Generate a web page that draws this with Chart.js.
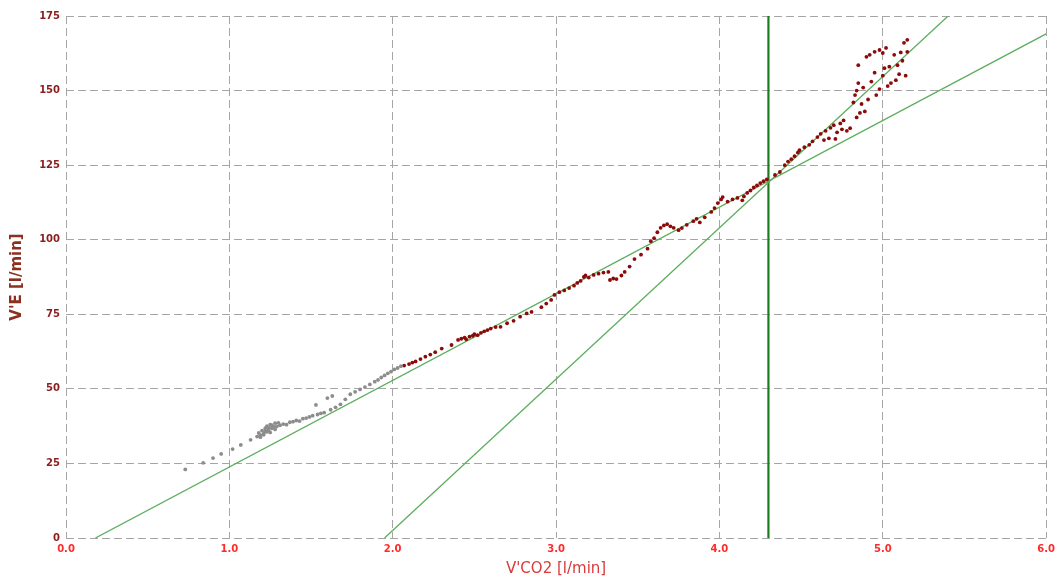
<!DOCTYPE html>
<html>
<head>
<meta charset="utf-8">
<script src="https://cdn.jsdelivr.net/npm/chart.js@4/dist/chart.umd.min.js"></script>
<style>
  html, body { margin: 0; padding: 0; background: #fff; }
  #wrap { width: 1060px; height: 578px; }
</style>
</head>
<body>
<div id="wrap"><canvas id="grafico" width="1060" height="578"></canvas></div>
<script>
// warm-up phase (grey) and exercise phase (dark red): V'CO2 [l/min], V'E [l/min]
const grayX = [0.73,0.84,0.90,0.95,1.02,1.07,1.13,1.17,1.18,1.19,1.20,1.21,1.22,1.23,1.23,1.24,1.25,1.26,1.27,1.28,
  1.19,1.21,1.22,1.24,1.25,1.26,1.28,1.30,
  1.29,1.31,1.33,1.35,1.37,1.39,1.41,1.43,1.45,1.47,1.49,1.51,1.53,1.54,1.56,1.58,1.60,1.63,1.62,1.65,
  1.68,1.71,1.74,1.77,1.80,1.83,1.86,1.89,1.91,1.93,1.95,1.97,1.99,2.01,2.03,2.05];
const grayY = [23.0,25.2,26.8,28.2,29.8,31.2,32.9,34.0,35.2,34.5,36.0,35.0,36.8,35.6,37.5,36.2,38.0,36.8,37.3,38.5,
  33.8,34.6,35.8,37.0,35.4,37.8,36.4,38.6,
  37.4,37.8,38.2,38.0,38.8,39.0,39.4,39.2,40.0,40.2,40.6,41.0,44.6,41.4,41.8,42.0,46.9,47.6,43.0,43.8,
  44.8,46.5,48.2,49.0,49.8,50.6,51.5,52.4,53.0,53.8,54.5,55.2,55.8,56.5,57.0,57.6];

const redX = [2.07,2.10,2.12,2.14,2.17,2.20,2.23,2.26,2.30,2.36,2.40,2.42,2.44,2.45,2.47,2.49,2.50,2.52,2.54,2.56,
  2.58,2.60,2.63,2.66,2.70,2.74,2.78,2.82,2.85,2.91,2.94,2.97,2.99,3.02,3.05,3.08,3.11,3.13,3.15,3.17,
  3.18,3.20,3.23,3.26,3.29,3.32,3.33,3.35,3.37,3.40,3.42,3.45,3.48,3.52,3.56,3.58,3.60,3.62,3.64,3.66,
  3.68,3.70,3.72,3.75,3.77,3.80,3.84,3.86,3.88,3.91,3.95,3.97,3.99,4.01,4.02,4.05,4.08,4.11,4.14,4.15,
  4.17,4.19,4.21,4.23,4.25,4.27,4.29,4.34,4.37,4.40,4.42,4.44,4.46,4.48,4.49,4.52,4.55,4.57,4.60,4.62,
  4.64,4.65,4.67,4.68,4.70,4.71,4.72,4.74,4.75,4.76,4.78,4.80,4.82,4.83,4.84,4.84,4.85,4.85,4.86,4.87,
  4.88,4.89,4.90,4.91,4.92,4.93,4.95,4.95,4.96,4.98,4.98,5.00,5.00,5.01,5.02,5.03,5.04,5.05,5.07,5.08,
  5.09,5.10,5.11,5.12,5.13,5.14,5.15,5.15];
const redY = [57.8,58.3,58.8,59.2,60.0,60.8,61.5,62.3,63.5,64.7,66.4,66.8,67.2,66.6,67.5,67.8,68.3,68.0,68.8,69.3,
  69.7,70.2,70.7,70.8,72.0,72.8,74.2,75.3,75.8,77.4,78.6,79.8,81.5,82.4,83.0,83.8,84.6,85.5,86.2,87.5,
  88.0,87.3,88.2,88.6,89.0,89.2,86.5,87.0,86.8,88.0,89.2,91.0,93.5,95.0,97.0,99.5,100.5,102.5,104.0,104.8,
  105.2,104.5,104.0,103.2,103.9,105.0,106.2,107.0,105.8,107.5,109.3,110.6,112.3,113.5,114.3,112.8,113.5,114.0,113.2,114.5,
  115.7,116.5,117.5,118.2,119.0,119.6,120.2,121.7,122.7,125.0,126.2,127.0,128.0,129.2,130.0,131.0,131.8,133.0,134.4,135.5,
  133.4,136.5,134.0,137.5,138.4,133.8,136.0,139.0,137.0,140.0,136.5,137.4,146.0,148.5,141.0,150.0,152.5,158.5,142.5,145.5,
  151.0,143.0,161.3,147.0,162.0,153.0,163.0,156.0,148.5,163.6,150.5,162.6,155.0,157.5,164.3,151.5,158.0,152.5,162.0,153.5,
  158.5,155.5,162.8,160.0,166.0,155.0,167.0,163.0];

// regression lines (start/end) and threshold
const slope1X = [0.18, 6.0];
const slope1Y = [0, 169];
const slope2X = [1.95, 5.4];
const slope2Y = [0, 175];
const thresholdX = 4.3;

const xTicks = [0, 1, 2, 3, 4, 5, 6];
const yTicks = [0, 25, 50, 75, 100, 125, 150, 175];

const pts = (xs, ys) => xs.map((x, i) => ({ x: x, y: ys[i] }));

const fonte = 'DejaVu Sans, Verdana, sans-serif';

const ctx = document.getElementById('grafico').getContext('2d');
new Chart(ctx, {
    type: 'scatter',
    data: {
        datasets: [
            {
                data: pts(grayX, grayY),
                backgroundColor: '#8c8c8c',
                borderWidth: 0,
                pointRadius: 1.9
            },
            {
                data: pts(redX, redY),
                backgroundColor: '#8b0a0a',
                borderWidth: 0,
                pointRadius: 1.9
            },
            {
                type: 'line',
                data: pts(slope1X, slope1Y),
                borderColor: '#5cad5c',
                borderWidth: 1.3,
                pointRadius: 0
            },
            {
                type: 'line',
                data: pts(slope2X, slope2Y),
                borderColor: '#5cad5c',
                borderWidth: 1.3,
                pointRadius: 0
            },
            {
                type: 'line',
                data: pts([thresholdX, thresholdX], [0, 175]),
                borderColor: '#1e7a1e',
                borderWidth: 2.2,
                pointRadius: 0
            }
        ]
    },
    options: {
        responsive: false,
        animation: false,
        layout: { padding: { left: 0, right: 10, top: 16, bottom: 0 } },
        plugins: {
            legend: { display: false },
            tooltip: { enabled: false }
        },
        scales: {
            x: {
                type: 'linear',
                min: 0,
                max: 6,
                afterBuildTicks: s => { s.ticks = xTicks.map(v => ({ value: v })); },
                afterFit: s => { s.height = 40; },
                grid: { color: '#a6a6a6', lineWidth: 1, drawTicks: false },
                border: { display: false, dash: [8, 4] },
                ticks: {
                    color: '#ff2a2a',
                    font: { family: fonte, size: 10, weight: 'bold' },
                    padding: 5,
                    maxRotation: 0,
                    callback: v => v.toFixed(1)
                },
                title: {
                    display: true,
                    text: "V'CO2 [l/min]",
                    color: '#d93a3a',
                    font: { family: fonte, size: 15 },
                    padding: { top: 4, bottom: 0 }
                }
            },
            y: {
                type: 'linear',
                min: 0,
                max: 175,
                afterBuildTicks: s => { s.ticks = yTicks.map(v => ({ value: v })); },
                afterFit: s => { s.width = 66; },
                grid: { color: '#a6a6a6', lineWidth: 1, drawTicks: false },
                border: { display: false, dash: [8, 4] },
                ticks: {
                    color: '#8b1e1e',
                    font: { family: fonte, size: 10, weight: 'bold' },
                    padding: 6
                },
                title: {
                    display: true,
                    text: "V'E [l/min]",
                    color: '#8b3020',
                    font: { family: fonte, size: 15, weight: 'bold' },
                    padding: { top: 8, bottom: 0 }
                }
            }
        }
    }
});
</script>
</body>
</html>
